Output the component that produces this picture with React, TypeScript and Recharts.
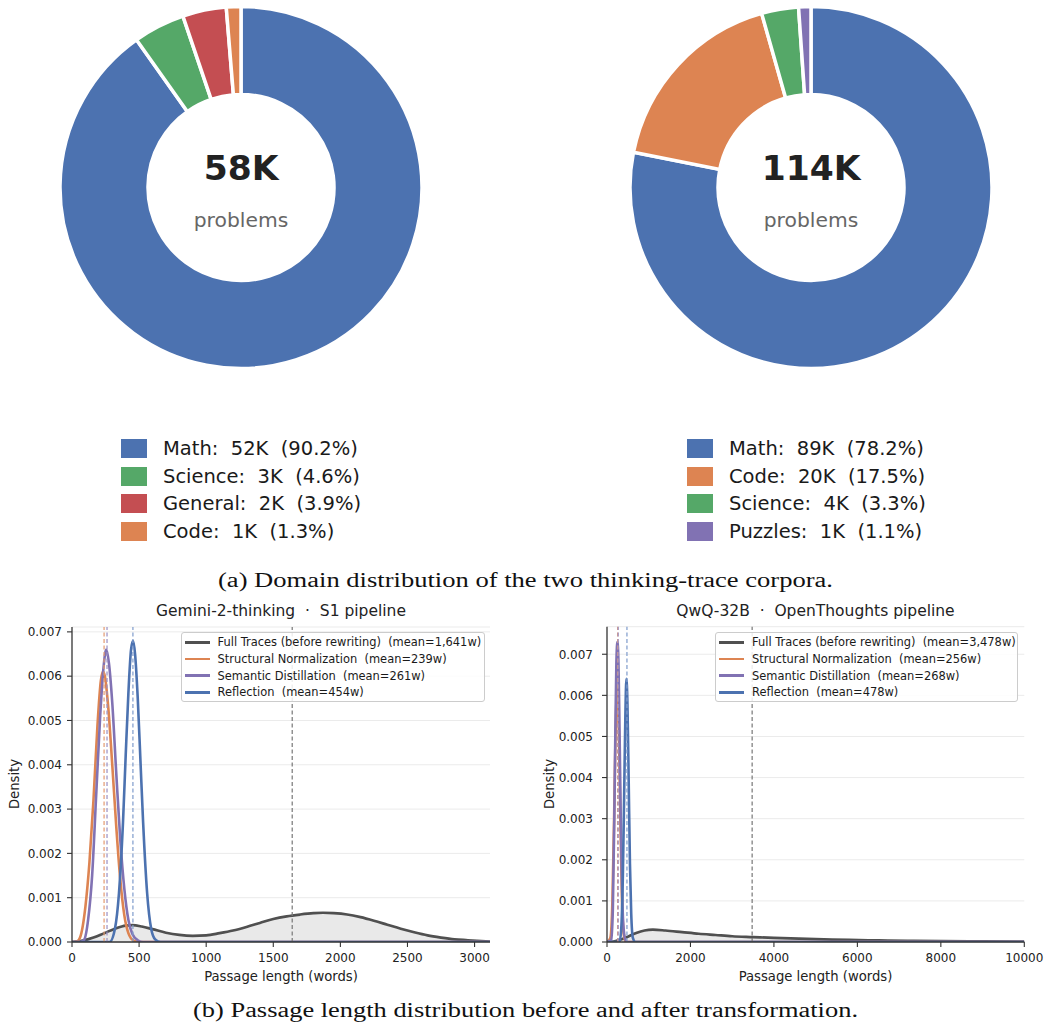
import React from 'react';
import {
  PieChart, Pie, Cell, ComposedChart, Line, Area, XAxis, YAxis,
  CartesianGrid, ReferenceLine,
} from 'recharts';

// ---- (a) domain distribution ----
const s1Domains = ['Math', 'Science', 'General', 'Code'];
const s1Counts = ['52K', '3K', '2K', '1K'];
const s1Pcts = [90.2, 4.6, 3.9, 1.3];
const s1Colors = ['#4c72b0', '#55a868', '#c44e52', '#dd8452'];
const s1Total = '58K';

const otDomains = ['Math', 'Code', 'Science', 'Puzzles'];
const otCounts = ['89K', '20K', '4K', '1K'];
const otPcts = [78.2, 17.5, 3.3, 1.1];
const otColors = ['#4c72b0', '#dd8452', '#55a868', '#8172b3'];
const otTotal = '114K';

// ---- (b) passage length densities, [words, density] ----
const s1Full: [number, number][] = [
  [0, 0], [80, 0.00003], [160, 0.0001], [240, 0.0002], [320, 0.0003], [400, 0.00037],
  [450, 0.00038], [520, 0.00035], [600, 0.00029], [700, 0.00021], [800, 0.00016],
  [900, 0.00014], [1000, 0.00015], [1100, 0.0002], [1200, 0.00026], [1300, 0.00034],
  [1400, 0.00043], [1500, 0.00052], [1600, 0.00058], [1700, 0.00062], [1800, 0.00065],
  [1870, 0.00066], [1950, 0.00065], [2050, 0.00062], [2150, 0.00056], [2250, 0.00048],
  [2350, 0.00039], [2450, 0.0003], [2550, 0.00022], [2650, 0.00015], [2750, 0.0001],
  [2850, 0.00006], [2950, 0.00004], [3050, 0.00002], [3115, 0.00001],
];
const s1Struct: [number, number][] = [
  [0, 0], [40, 0.00002], [60, 0.0001], [100, 0.0008], [130, 0.0018], [160, 0.0032],
  [190, 0.0049], [215, 0.0059], [230, 0.0061], [245, 0.006], [270, 0.0053], [300, 0.004],
  [330, 0.0026], [360, 0.0014], [390, 0.0006], [420, 0.0002], [460, 0.00003], [500, 0],
  [3115, 0],
];
const s1Sem: [number, number][] = [
  [0, 0], [60, 0], [90, 0.00005], [120, 0.0005], [150, 0.0015], [180, 0.0033],
  [210, 0.0051], [235, 0.0062], [255, 0.0066], [275, 0.0063], [300, 0.0054],
  [330, 0.0038], [360, 0.0023], [390, 0.0012], [420, 0.0005], [450, 0.00018],
  [490, 0.00004], [530, 0], [3115, 0],
];
const s1Refl: [number, number][] = [
  [0, 0], [280, 0], [320, 0.0003], [350, 0.0011], [380, 0.0027], [400, 0.0042],
  [420, 0.0056], [440, 0.0066], [455, 0.0068], [470, 0.0065], [490, 0.0055],
  [510, 0.0041], [530, 0.0027], [560, 0.0011], [590, 0.0003], [620, 0.00006],
  [660, 0], [3115, 0],
];
const s1Means = [1641, 239, 261, 454];
const s1Labels = [
  'Full Traces (before rewriting)  (mean=1,641w)',
  'Structural Normalization  (mean=239w)',
  'Semantic Distillation  (mean=261w)',
  'Reflection  (mean=454w)',
];

const otFull: [number, number][] = [
  [0, 0], [150, 0.00001], [300, 0.00005], [500, 0.00013], [700, 0.00022], [900, 0.00028],
  [1100, 0.0003], [1400, 0.00028], [1800, 0.00024], [2200, 0.0002], [2600, 0.00017],
  [3000, 0.00014], [3500, 0.00012], [4000, 0.0001], [4600, 0.00008], [5200, 0.000065],
  [5800, 0.00005], [6500, 0.00004], [7200, 0.00003], [8000, 0.00002], [9000, 0.000015],
  [10000, 0.00001],
];
const otStruct: [number, number][] = [
  [0, 0], [80, 0.0001], [130, 0.001], [170, 0.003], [200, 0.0048], [225, 0.0059],
  [245, 0.0062], [265, 0.0059], [290, 0.0048], [320, 0.003], [360, 0.001], [400, 0.0002],
  [450, 0], [10000, 0],
];
const otSem: [number, number][] = [
  [0, 0], [100, 0.00005], [140, 0.0008], [175, 0.003], [200, 0.0051], [225, 0.0068],
  [250, 0.0073], [275, 0.0068], [300, 0.0052], [330, 0.003], [365, 0.0011], [400, 0.0003],
  [450, 0.00003], [500, 0], [10000, 0],
];
const otRefl: [number, number][] = [
  [0, 0], [300, 0], [340, 0.0003], [380, 0.0016], [410, 0.0035], [440, 0.0055],
  [465, 0.0064], [490, 0.0058], [520, 0.0039], [550, 0.0019], [580, 0.0007],
  [620, 0.0001], [680, 0], [10000, 0],
];
const otMeans = [3478, 256, 268, 478];
const otLabels = [
  'Full Traces (before rewriting)  (mean=3,478w)',
  'Structural Normalization  (mean=256w)',
  'Semantic Distillation  (mean=268w)',
  'Reflection  (mean=478w)',
];

const densityTicks = [0, 0.001, 0.002, 0.003, 0.004, 0.005, 0.006, 0.007];
const s1XTicks = [0, 500, 1000, 1500, 2000, 2500, 3000];
const otXTicks = [0, 2000, 4000, 6000, 8000, 10000];

const seriesColors = ['#505050', '#dd8452', '#8172b3', '#4c72b0'];
const meanColors = ['#777777', '#e39a70', '#9a8fc4', '#7f9ccc'];

const sans = '"DejaVu Sans", sans-serif';
const toPts = (arr: [number, number][]) => arr.map(([x, y]) => ({ x, y }));

function DonutBlock({ left, values, colors }: { left: number; values: number[]; colors: string[] }) {
  const data = values.map((v, i) => ({ name: i, value: v }));
  return (
    <div style={{ position: 'absolute', left, top: 0 }}>
      <PieChart width={482} height={376} margin={{ top: 0, right: 0, bottom: 0, left: 0 }}>
        <Pie
          data={data}
          dataKey="value"
          cx={241}
          cy={187.5}
          innerRadius={93}
          outerRadius={181}
          startAngle={90}
          endAngle={-270}
          stroke="#ffffff"
          strokeWidth={3.5}
          isAnimationActive={false}
        >
          {data.map((d, i) => <Cell key={i} fill={colors[i]} />)}
        </Pie>
      </PieChart>
    </div>
  );
}

function DomainLegend({ left, textLeft, names, counts, pcts, colors }: any) {
  return (
    <>
      {names.map((n: string, i: number) => (
        <div key={n} style={{ position: 'absolute', top: 439 + i * 27.7, left, height: 19 }}>
          <div style={{ position: 'absolute', left: 0, top: 0, width: 26, height: 19, background: colors[i] }} />
          <div style={{
            position: 'absolute', left: textLeft - left, top: 0, lineHeight: '19px',
            fontSize: 19.5, whiteSpace: 'pre', color: '#1a1a1a',
          }}>
            {`${n}:  ${counts[i]}  (${pcts[i].toFixed(1)}%)`}
          </div>
        </div>
      ))}
    </>
  );
}

function DensityPanel({ left, width, plotWidth, series, means, labels, xTicks, xMax, yMax, top, yWidth, tickGap, legendLeft, legendWidth }: any) {
  const [full, st, sem, refl] = series.map(toPts);
  return (
    <>
      <div style={{ position: 'absolute', left, top: 620 }}>
        <ComposedChart width={width} height={360}
          margin={{ top, right: width - (yWidth + 12) - plotWidth, bottom: 8, left: 12 }}>
          <CartesianGrid vertical={false} stroke="#ebebeb" />
          <XAxis type="number" dataKey="x" domain={[0, xMax]} ticks={xTicks} interval={0}
            allowDataOverflow height={30} tickSize={5} tickMargin={6}
            axisLine={{ stroke: '#333', strokeWidth: 1.3 }} tickLine={{ stroke: '#333', strokeWidth: 1.1 }}
            tick={{ fontSize: 12, fill: '#222', fontFamily: sans }} />
          <YAxis type="number" domain={[0, yMax]} ticks={densityTicks} interval={0}
            allowDataOverflow width={yWidth} tickSize={5} tickMargin={tickGap}
            tickFormatter={(v: number) => v.toFixed(3)}
            axisLine={{ stroke: '#333', strokeWidth: 1.3 }} tickLine={{ stroke: '#333', strokeWidth: 1.1 }}
            tick={{ fontSize: 12, fill: '#222', fontFamily: sans }} />
          <Area data={full} dataKey="y" type="monotone" stroke={seriesColors[0]} strokeWidth={2.7}
            fill="#e9e9e9" fillOpacity={1} dot={false} isAnimationActive={false} />
          <Line data={st} dataKey="y" type="monotone" stroke={seriesColors[1]} strokeWidth={2.6} dot={false} isAnimationActive={false} />
          <Line data={sem} dataKey="y" type="monotone" stroke={seriesColors[2]} strokeWidth={2.6} dot={false} isAnimationActive={false} />
          <Line data={refl} dataKey="y" type="monotone" stroke={seriesColors[3]} strokeWidth={2.6} dot={false} isAnimationActive={false} />
          {means.map((m: number, i: number) => (
            <ReferenceLine key={i} x={m} stroke={meanColors[i]} strokeWidth={1.2} strokeDasharray="4 2.5" />
          ))}
        </ComposedChart>
      </div>
      <div style={{
        position: 'absolute', left: legendLeft, top: 632, width: legendWidth, height: 70,
        border: '1px solid #cccccc', borderRadius: 3, background: 'rgba(255,255,255,0.85)', boxSizing: 'border-box',
      }}>
        {labels.map((t: string, i: number) => (
          <div key={t} style={{ position: 'absolute', left: 0, top: 1.3 + i * 16.7, height: 16, width: '100%' }}>
            <div style={{ position: 'absolute', left: 3, top: 6.7, width: 25, height: 2.6, background: seriesColors[i] }} />
            <div style={{ position: 'absolute', left: 36, top: 0, lineHeight: '16px', fontSize: 11.45, whiteSpace: 'pre', color: '#1a1a1a' }}>{t}</div>
          </div>
        ))}
      </div>
    </>
  );
}

export default function App() {
  return (
    <div style={{ position: 'absolute', left: 0, top: 0, width: 1045, height: 1034, background: '#fff', fontFamily: sans, overflow: 'hidden' }}>
      <DonutBlock left={0} values={s1Pcts} colors={s1Colors} />
      <DonutBlock left={570} values={otPcts} colors={otColors} />
      <DomainLegend left={121} textLeft={163} names={s1Domains} counts={s1Counts} pcts={s1Pcts} colors={s1Colors} />
      <DomainLegend left={687} textLeft={729} names={otDomains} counts={otCounts} pcts={otPcts} colors={otColors} />

      <DensityPanel left={0} width={500} plotWidth={418} top={7} series={[s1Full, s1Struct, s1Sem, s1Refl]} means={s1Means} labels={s1Labels}
        xTicks={s1XTicks} xMax={3115} yMax={0.00711} yWidth={60} tickGap={5} legendLeft={180.5} legendWidth={304} />
      <DensityPanel left={530} width={515} plotWidth={417.3} top={6.7} series={[otFull, otStruct, otSem, otRefl]} means={otMeans} labels={otLabels}
        xTicks={otXTicks} xMax={10000} yMax={0.00767} yWidth={65} tickGap={9} legendLeft={715} legendWidth={303} />

      <svg width={1045} height={1034} style={{ position: 'absolute', left: 0, top: 0, pointerEvents: 'none' }}>
        <g fontFamily={sans}>
          <text x={241} y={180} textAnchor="middle" fontSize={34.5} fontWeight="bold" fill="#222">{s1Total}</text>
          <text x={241} y={227} textAnchor="middle" fontSize={20.3} fill="#666">problems</text>
          <text x={811} y={180} textAnchor="middle" fontSize={34.5} fontWeight="bold" fill="#222">{otTotal}</text>
          <text x={811} y={227} textAnchor="middle" fontSize={20.3} fill="#666">problems</text>

          <text x={281} y={616} textAnchor="middle" fontSize={15.5} fill="#222" style={{ whiteSpace: 'pre' }}>{'Gemini-2-thinking  ·  S1 pipeline'}</text>
          <text x={815.5} y={616} textAnchor="middle" fontSize={15.5} fill="#222" style={{ whiteSpace: 'pre' }}>{'QwQ-32B  ·  OpenThoughts pipeline'}</text>

          <text x={281} y={980.5} textAnchor="middle" fontSize={13.2} fill="#222">Passage length (words)</text>
          <text x={815.5} y={980.5} textAnchor="middle" fontSize={13.2} fill="#222">Passage length (words)</text>
          <text transform="translate(19,784) rotate(-90)" textAnchor="middle" fontSize={13.2} fill="#222">Density</text>
          <text transform="translate(553.5,784) rotate(-90)" textAnchor="middle" fontSize={13.2} fill="#222">Density</text>
        </g>
        <g fontFamily={'"Liberation Serif", "DejaVu Serif", serif'} fill="#111">
          <text x={525.5} y={587} textAnchor="middle" fontSize={20.5} textLength={615} lengthAdjust="spacingAndGlyphs">
            (a) Domain distribution of the two thinking-trace corpora.
          </text>
          <text x={525.5} y={1017} textAnchor="middle" fontSize={20.5} textLength={665} lengthAdjust="spacingAndGlyphs">
            (b) Passage length distribution before and after transformation.
          </text>
        </g>
      </svg>
    </div>
  );
}
